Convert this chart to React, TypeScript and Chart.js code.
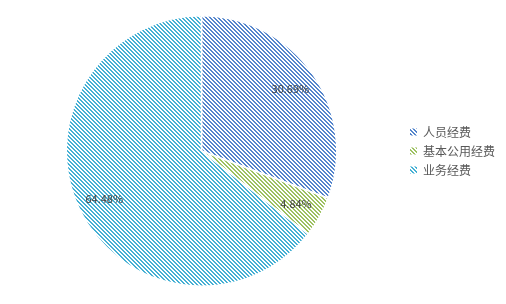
import React, { useEffect, useRef } from "react";
import { Chart, registerables } from "chart.js";

Chart.register(...registerables);

const categories = ["人员经费", "基本公用经费", "业务经费"];
const values = [30.69, 4.84, 64.48];
const valueLabels = ["30.69%", "4.84%", "64.48%"];
const colors = ["#5485CC", "#9DC160", "#45B0D4"];

function makePattern(color: string): CanvasPattern | string {
  const c = document.createElement("canvas");
  c.width = 4;
  c.height = 4;
  const ctx = c.getContext("2d");
  if (!ctx) return color;
  ctx.fillStyle = "#ffffff";
  ctx.fillRect(0, 0, 4, 4);
  ctx.fillStyle = color;
  for (let y = 0; y < 4; y++) {
    ctx.fillRect(y % 4, y, 1, 1);
    ctx.fillRect((y + 1) % 4, y, 1, 1);
  }
  const p = ctx.createPattern(c, "repeat");
  return p || color;
}

const labelPlugin = {
  id: "sliceLabels",
  afterDatasetsDraw(chart: any) {
    const ctx = chart.ctx;
    const meta = chart.getDatasetMeta(0);
    ctx.save();
    ctx.font = '11px "Noto Sans CJK SC", "DejaVu Sans", sans-serif';
    ctx.fillStyle = "#404040";
    ctx.textAlign = "center";
    ctx.textBaseline = "middle";
    meta.data.forEach((arc: any, i: number) => {
      const { x, y, startAngle, endAngle, outerRadius } = arc.getProps(
        ["x", "y", "startAngle", "endAngle", "outerRadius"],
        true
      );
      const mid = (startAngle + endAngle) / 2;
      const r = outerRadius * 0.8;
      ctx.fillText(valueLabels[i], x + Math.cos(mid) * r, y + Math.sin(mid) * r);
    });
    ctx.restore();
  },
};

export default function App() {
  const ref = useRef<HTMLCanvasElement | null>(null);
  useEffect(() => {
    document.body.style.margin = "0";
    if (!ref.current) return;
    const patterns = colors.map(makePattern);
    const chart = new Chart(ref.current, {
      type: "pie",
      data: {
        labels: categories,
        datasets: [
          {
            data: values,
            backgroundColor: patterns as any,
            borderColor: "#ffffff",
            borderWidth: 1.5,
          },
        ],
      },
      options: {
        responsive: false,
        animation: false,
        layout: { padding: { top: 15, bottom: 17, left: 0, right: 1 } },
        plugins: {
          tooltip: { enabled: false },
          legend: {
            position: "right",
            labels: {
              boxWidth: 7,
              boxHeight: 7,
              padding: 7,
              color: "#595959",
              font: { size: 12, family: '"Noto Sans CJK SC", sans-serif' },
              generateLabels: (chart: any) => {
                const base = (Chart as any).overrides.pie.plugins.legend.labels.generateLabels(chart);
                return base.map((l: any) => ({ ...l, lineWidth: 0, strokeStyle: "rgba(0,0,0,0)" }));
              },
            },
          },
        },
      },
      plugins: [labelPlugin],
    });
    return () => chart.destroy();
  }, []);
  return (
    <div style={{ width: 506, height: 304 }}>
      <canvas ref={ref} width={506} height={304} />
    </div>
  );
}
